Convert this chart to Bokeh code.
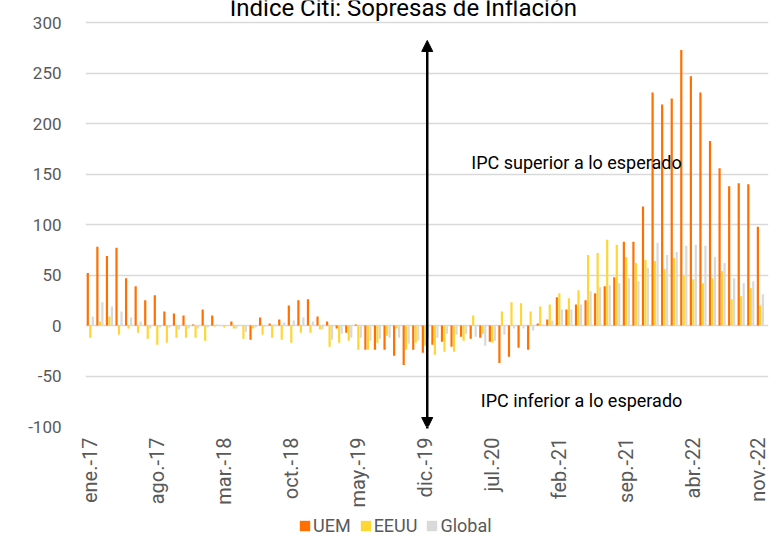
import math
from bokeh.plotting import figure
from bokeh.layouts import column
from bokeh.models import (ColumnDataSource, FixedTicker, Legend, LegendItem,
                          Arrow, NormalHead, Range1d)
from bokeh.transform import dodge
from bokeh.core.properties import value
from bokeh.embed import file_html
from bokeh.resources import INLINE

# ---------------- data ----------------
month_abbr = ["ene.", "feb.", "mar.", "abr.", "may.", "jun.",
              "jul.", "ago.", "sep.", "oct.", "nov.", "dic."]
years = ["17", "18", "19", "20", "21", "22"]
months = [f"{m}-{y}" for y in years for m in month_abbr][:71]   # ene.-17 .. nov.-22

uem = [52, 78, 69, 77, 47, 39, 25, 30, 14, 12, 10, 1,
       16, 10, 0, 4, 0, -14, 8, 2, 6, 20, 25, 26,
       9, 4, -3, -7, 1, -24, -24, -24, -30, -39, -24, -27,
       -19, -16, -21, -11, -13, -12, -16, -37, -31, -22, -24, 2,
       6, 28, 16, 21, 25, 32, 39, 48, 83, 83, 118, 231,
       219, 225, 273, 247, 231, 183, 156, 138, 141, 140, 98]
eeuu = [-12, 4, 9, -9, -3, -7, -13, -19, -17, -12, -12, -12,
        -15, -1, -2, -3, -13, -3, -9, -12, -14, -17, -7, -7,
        -4, -21, -17, -15, -24, -24, -17, -10, -3, -24, -17, -20,
        -29, -26, -26, -15, 10, -8, -17, 14, 23, 22, 14, 19,
        21, 32, 27, 35, 70, 72, 85, 80, 68, 62, 65, 64,
        56, 67, 49, 46, 42, 47, 54, 26, 29, 37, 20]
glob = [9, 23, 19, 14, 8, 4, -3, -2, -2, -4, -3, -3,
        -2, 1, 0.5, -3, -6, -2, -1, 1, 3, 5, 8, 4,
        -4, -14, -8, -12, -12, -15, -13, -12, -12, -18, -15, -13,
        -12, -8, -9, -8, -11, -20, -15, -9, -3, -3, -5, 1,
        5, 16, 16, 21, 34, 38, 40, 42, 47, 44, 57, 82,
        70, 73, 79, 80, 79, 68, 62, 47, 42, 44, 31]
series_names = ["UEM", "EEUU", "Global"]
y_ticks = [-100, -50, 0, 50, 100, 150, 200, 250, 300]
x_tick_idx = list(range(0, 71, 7))

title_text = "Índice Citi: Sopresas de Inflación"
note_up = "IPC superior a lo esperado"
note_down = "IPC inferior a lo esperado"

# ---------------- style / positions ----------------
C_UEM, C_EEUU, C_GLOB = "#FF7000", "#FFD633", "#D9D9D9"
GRAY_TXT = "#595959"
FONT = "Roboto"
W = 769
H_MAIN, H_LEG = 514, 24

src = ColumnDataSource(dict(i=list(range(len(months))), uem=uem, eeuu=eeuu, glob=glob))

p = figure(width=W, height=H_MAIN, output_backend="svg", toolbar_location=None,
           x_range=Range1d(-0.5, 70.85), y_range=Range1d(-100, 322.1),
           min_border_left=85, min_border_right=1, min_border_top=0,
           min_border_bottom=88)
p.outline_line_color = None
p.background_fill_color = "white"
p.border_fill_color = "white"

bw = 0.23
r1 = p.vbar(x=dodge("i", -0.26, range=p.x_range), top="uem", width=bw,
            source=src, fill_color=C_UEM, line_color=None)
r2 = p.vbar(x=dodge("i", 0.0, range=p.x_range), top="eeuu", width=bw,
            source=src, fill_color=C_EEUU, line_color=None)
r3 = p.vbar(x=dodge("i", 0.26, range=p.x_range), top="glob", width=bw,
            source=src, fill_color=C_GLOB, line_color=None)

# grid
p.xgrid.grid_line_color = None
p.ygrid.ticker = FixedTicker(ticks=y_ticks)
p.ygrid.grid_line_color = "#D9D9D9"
p.ygrid.grid_line_width = 1.6
p.ygrid.level = "underlay"

# y axis
p.yaxis.ticker = FixedTicker(ticks=y_ticks)
p.yaxis.major_label_overrides = {t: str(t) for t in y_ticks}
p.yaxis.axis_line_color = None
p.yaxis.major_tick_line_color = None
p.yaxis.minor_tick_line_color = None
p.yaxis.major_label_standoff = 18
p.yaxis.major_label_text_font = FONT
p.yaxis.major_label_text_font_size = "17px"
p.yaxis.major_label_text_color = GRAY_TXT

# x axis
p.xaxis.ticker = FixedTicker(ticks=x_tick_idx)
p.xaxis.major_label_overrides = {i: months[i] for i in x_tick_idx}
p.xaxis.major_label_orientation = math.pi / 2
p.xaxis.axis_line_color = None
p.xaxis.major_tick_line_color = None
p.xaxis.minor_tick_line_color = None
p.xaxis.major_label_standoff = 5
p.xaxis.major_label_text_font = FONT
p.xaxis.major_label_text_font_size = "20px"
p.xaxis.major_label_text_color = GRAY_TXT

# annotations
p.text(x=[32.7], y=[314.5], text=[title_text], text_font=value(FONT),
       text_font_size="24px", text_align="center", text_baseline="alphabetic",
       text_color="black")
p.text(x=[39.8], y=[161.5], text=[note_up], text_font=value(FONT),
       text_font_size="18px", text_align="left", text_baseline="middle",
       text_color="black")
p.text(x=[40.8], y=[-74.3], text=[note_down], text_font=value(FONT),
       text_font_size="18px", text_align="left", text_baseline="middle",
       text_color="black")

arrow_x = 35.2
p.add_layout(Arrow(start=NormalHead(size=11, fill_color="black", line_color="black"),
                   end=NormalHead(size=11, fill_color="black", line_color="black"),
                   x_start=arrow_x, y_start=-102, x_end=arrow_x, y_end=282.5,
                   line_width=2.5, line_color="black"))

# ---------------- legend strip ----------------
lg = figure(width=W, height=H_LEG, output_backend="svg", toolbar_location=None,
            x_range=Range1d(-0.5, 70.85), y_range=Range1d(0, 1),
            x_axis_type=None, y_axis_type=None,
            min_border_left=0, min_border_right=0, min_border_top=0, min_border_bottom=0)
lg.outline_line_color = None
lg.xgrid.visible = False
lg.ygrid.visible = False
# zero-area quads: invisible, only used to give the legend its square swatches
l1 = lg.quad(left="i", right="i", top=0, bottom=0, source=src, fill_color=C_UEM, line_color=None)
l2 = lg.quad(left="i", right="i", top=0, bottom=0, source=src, fill_color=C_EEUU, line_color=None)
l3 = lg.quad(left="i", right="i", top=0, bottom=0, source=src, fill_color=C_GLOB, line_color=None)

legend = Legend(items=[LegendItem(label=series_names[0], renderers=[l1]),
                       LegendItem(label=series_names[1], renderers=[l2]),
                       LegendItem(label=series_names[2], renderers=[l3])],
                orientation="horizontal", location=(213, 2),
                border_line_color=None, background_fill_alpha=0,
                label_text_font=FONT, label_text_font_size="18px",
                label_text_color=GRAY_TXT, glyph_width=13, glyph_height=13,
                label_height=13, label_standoff=2, spacing=8, padding=2, margin=0)
lg.add_layout(legend, "center")

layout = column(p, lg, spacing=0)
open("out.html", "w").write(file_html(layout, INLINE))
